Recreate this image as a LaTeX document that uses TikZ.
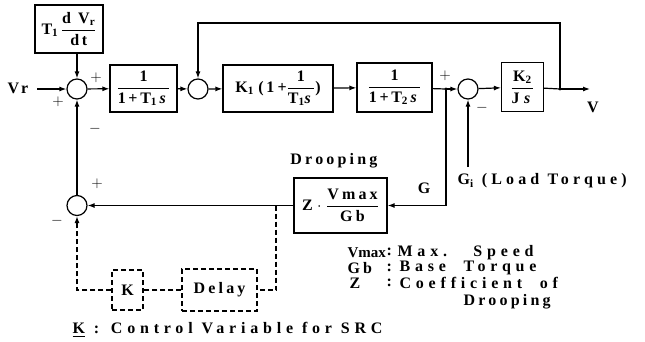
\RequirePackage{fix-cm}
\documentclass[tikz,border=0pt]{standalone}
\usepackage{amsmath}
\usepackage{fontspec}
\setmainfont{Liberation Serif}
\newfontfamily\lsfont{Liberation Serif}[LetterSpace=20]
\newfontfamily\lsfontm{Liberation Serif}[LetterSpace=26]
\newfontfamily\lsfontw{Liberation Serif}[LetterSpace=30]
\usetikzlibrary{arrows.meta}
\newcommand\fr[2]{$\dfrac{\text{#1}}{\text{#2}}$}
\newcommand\sub[1]{\textsubscript{#1}}
\begin{document}
\begin{tikzpicture}[x=1pt,y=-1pt, line width=1.2pt, >={Latex[length=7pt,width=5pt]},
 blk/.style={draw, rectangle, inner sep=0pt, font=\lsfont\bfseries\fontsize{16}{18}\selectfont},
 sumc/.style={draw, circle, minimum size=20pt, inner sep=0pt},
 dbox/.style={draw, dashed, dash pattern=on 5pt off 3pt, rectangle, inner sep=0pt, font=\lsfont\bfseries\fontsize{16}{18}\selectfont},
 lbl/.style={font=\lsfont\bfseries\fontsize{16}{18}\selectfont, inner sep=0pt},
 lblm/.style={font=\lsfontm\bfseries\fontsize{16}{18}\selectfont, inner sep=0pt},
 lblw/.style={font=\lsfontw\bfseries\fontsize{16}{18}\selectfont, inner sep=0pt},
 sgn/.style={font=\bfseries\fontsize{15}{15}\selectfont, inner sep=0pt},
 dl/.style={dashed, dash pattern=on 5pt off 3pt}]
\useasboundingbox (0,0) rectangle (645,341);
% blocks
\node[blk, minimum width=68pt, minimum height=48pt] (tdv) at (69,29) {T\sub{1}\,\fr{d\;\,V\sub{r}}{d\,t}};
\node[sumc] (s1) at (77,89) {};
\node[blk, minimum width=67pt, minimum height=47pt] (b1) at (143.5,88.5) {\fr{1}{1\,+\,T\sub{1}\,\textit{s}}};
\node[sumc] (s2) at (198,89) {};
\node[blk, minimum width=110pt, minimum height=47pt] (b2) at (278,88.5) {K\sub{1}\;(\,1+\fr{1}{T\sub{1}\textit{s}})};
\node[blk, minimum width=75pt, minimum height=49pt] (b3) at (394.5,87.5) {\fr{1}{1\,+\,T\sub{2}\,\textit{s}}};
\coordinate (ja) at (446,89);
\node[sumc] (s3) at (468,89) {};
\node[blk, minimum width=42pt, minimum height=49pt] (b4) at (522.5,87) {\fr{K\sub{2}}{J\;\textit{s}}};
\coordinate (jb) at (560,89);
\coordinate (out) at (590,89);
\coordinate (tr) at (560,23);
\coordinate (vrin) at (37,89);
\coordinate (gi) at (468,167);
\node[blk, minimum width=93pt, minimum height=55pt] (zb) at (340.5,205.5) {Z\;$\cdot$\;\fr{Vmax}{Gb}};
\node[sumc] (s4) at (77,205.5) {};
\coordinate (dj) at (276,205.5);
\coordinate (dc) at (276,290);
\node[dbox, minimum width=75pt, minimum height=42pt] (dly) at (219.5,290) {Delay};
\node[dbox, minimum width=31pt, minimum height=40pt] (kb) at (127.5,290) {K};
\coordinate (kc) at (77,290);
% labels
\node[lbl, anchor=west] (vrlab) at (7,88) {Vr};
\node[lbl] (vlab) at (593,107) {V};
\node[lblm, anchor=west] (gilab) at (457,181) {G\sub{i} (Load Torque)};
\node[lbl] (glab) at (424,188) {G};
\node[lbl] (droop) at (334,161) {Drooping};
\node[lblw, anchor=west] (klab) at (72,330) {\underline{K} : Control Variable for SRC};
\node[lbl, anchor=west, font=\bfseries\fontsize{15}{17}\selectfont] (l1a) at (347,253) {Vmax};
\node[lbl, anchor=west] (l1b) at (386,252) {:};
\node[lblw, anchor=west] (l1c) at (397,253) {Max.\ \ \ Speed};
\node[lbl, anchor=west] (l2a) at (347,268) {Gb};
\node[lbl, anchor=west] (l2b) at (386,268) {:};
\node[lblw, anchor=west] (l2c) at (399,268) {Base\ \ Torque};
\node[lbl, anchor=west] (l3a) at (349,283) {Z};
\node[lbl, anchor=west] (l3b) at (386,283) {:};
\node[lblw, anchor=west] (l3c) at (399,283) {Coefficient\ \ of};
\node[lbl, anchor=west] (l4) at (463,302) {Drooping};
% signs
\node[sgn] (p1) at (96,78) {$+$};
\node[sgn] (p2) at (58,102) {$+$};
\node[sgn] (m1) at (95,129) {$-$};
\node[sgn] (p3) at (97,184) {$+$};
\node[sgn] (m2) at (57,221) {$-$};
\node[sgn] (p4) at (445,76) {$+$};
\node[sgn] (m3) at (482,108) {$-$};
% connectors
\draw[->] (vrin) -- (s1);
\draw[->] (s1 |- tdv.south) -- (s1);
\draw[->] (s1) -- (b1);
\draw[->] (b1) -- (s2);
\draw[->] (s2) -- (b2);
\draw[->] (b2) -- (b3);
\draw (b3) -- (ja);
\draw[->] (ja) -- (s3);
\draw[->] (s3) -- (b4);
\draw (b4) -- (jb);
\draw[->] (jb) -- (out);
\draw[->] (jb) -- (tr) -| (s2);
\draw[->] (gi) -- (s3);
\draw[->] (ja) |- (zb.east);
\draw[->] (zb) -- (s4);
\draw[->] (s4) -- (s1);
\fill (ja) circle (1.6pt);
\fill (jb) circle (1.6pt);
\draw[dl] (dj) -- (dc) -- (dly);
\draw[dl] (dly) -- (kb);
\draw[dl,->] (kb) -- (kc) -- (s4);
\end{tikzpicture}
\end{document}
